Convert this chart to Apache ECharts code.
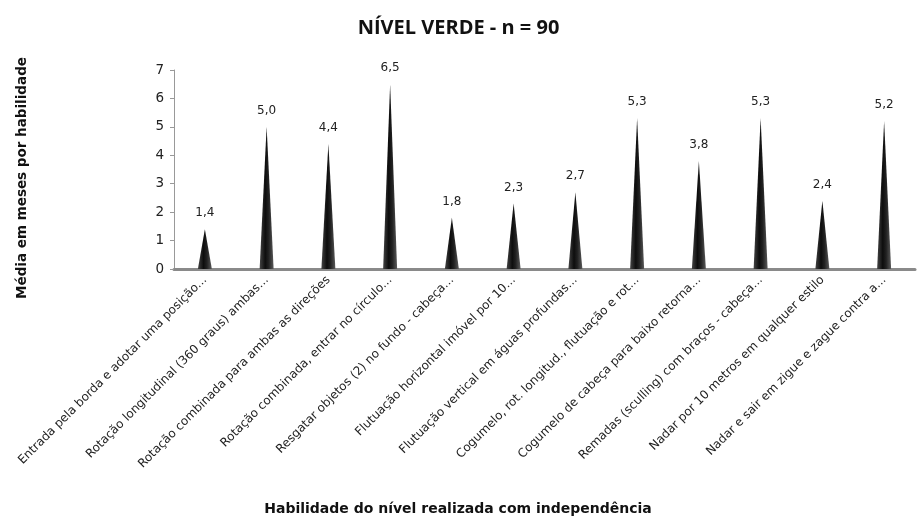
<!DOCTYPE html>
<html>
<head>
<meta charset="utf-8">
<script src="https://cdn.jsdelivr.net/npm/echarts@6/dist/echarts.min.js"></script>
<style>html,body{margin:0;padding:0;background:#fff}#c{width:917px;height:522px}</style>
</head>
<body>
<div id="c"></div>
<script>
var categories = [
  "Entrada pela borda e adotar uma posição...",
  "Rotação longitudinal (360 graus) ambas...",
  "Rotação combinada para ambas as direções",
  "Rotação combinada, entrar no círculo...",
  "Resgatar objetos (2) no fundo - cabeça...",
  "Flutuação horizontal imóvel por 10...",
  "Flutuação vertical em águas profundas...",
  "Cogumelo, rot. longitud., flutuação e rot...",
  "Cogumelo de cabeça para baixo retorna...",
  "Remadas (sculling) com braços - cabeça...",
  "Nadar por 10 metros em qualquer estilo",
  "Nadar e sair em zigue e zague contra a..."
];
var values = [1.4, 5.0, 4.4, 6.5, 1.8, 2.3, 2.7, 5.3, 3.8, 5.3, 2.4, 5.2];
var yTicks = [0, 1, 2, 3, 4, 5, 6, 7];
var titleText = "NÍVEL VERDE - n = 90";
var yName = "Média em meses por habilidade";
var xName = "Habilidade do nível realizada com independência";

var chart = echarts.init(document.getElementById('c'), null, {renderer: 'canvas'});
var font = "'DejaVu Sans', sans-serif";
chart.setOption({
  animation: false,
  backgroundColor: '#fff',
  title: {
    text: titleText, left: 'center', top: 13,
    textStyle: {fontFamily: "'Open Sans', sans-serif", fontSize: 20, fontWeight: 'bold', color: '#111'}
  },
  grid: {left: 174, right: 2, top: 70, bottom: 253, containLabel: false},
  xAxis: {
    type: 'category', data: categories,
    axisLine: {lineStyle: {color: '#8a8a8a', width: 3}},
    axisTick: {show: false},
    axisLabel: {rotate: 45, interval: 0, margin: 9, fontFamily: font, fontSize: 12, color: '#222'}
  },
  yAxis: {
    type: 'value', min: 0, max: 7, interval: 1,
    axisLine: {show: true, lineStyle: {color: '#999', width: 1}},
    axisTick: {show: true, length: 4, lineStyle: {color: '#999'}},
    splitLine: {show: false},
    axisLabel: {fontFamily: font, fontSize: 13.5, color: '#222', margin: 10,
      formatter: function (v) { return yTicks.indexOf(v) >= 0 ? String(v) : ''; }}
  },
  graphic: [
    {type: 'text', x: 22, y: 178, rotation: Math.PI / 2,
      style: {text: yName, fontFamily: font, fontSize: 13.5, fontWeight: 'bold', fill: '#111', textAlign: 'center', textVerticalAlign: 'middle'}},
    {type: 'text', x: 458, y: 509,
      style: {text: xName, fontFamily: font, fontSize: 14, fontWeight: 'bold', fill: '#111', textAlign: 'center', textVerticalAlign: 'middle'}}
  ],
  series: [{
    type: 'pictorialBar',
    data: values,
    symbol: 'triangle',
    symbolSize: [14, '100%'],
    itemStyle: {
      color: new echarts.graphic.LinearGradient(0, 0, 1, 0, [
        {offset: 0, color: '#444'},
        {offset: 0.4, color: '#0d0d0d'},
        {offset: 0.65, color: '#222'},
        {offset: 1, color: '#5a5a5a'}
      ])
    },
    label: {
      show: true, position: 'top', distance: 10,
      fontFamily: font, fontSize: 12, color: '#222',
      formatter: function (p) { return p.value.toFixed(1).replace('.', ','); }
    },
    z: 1
  }]
});
</script>
</body>
</html>
